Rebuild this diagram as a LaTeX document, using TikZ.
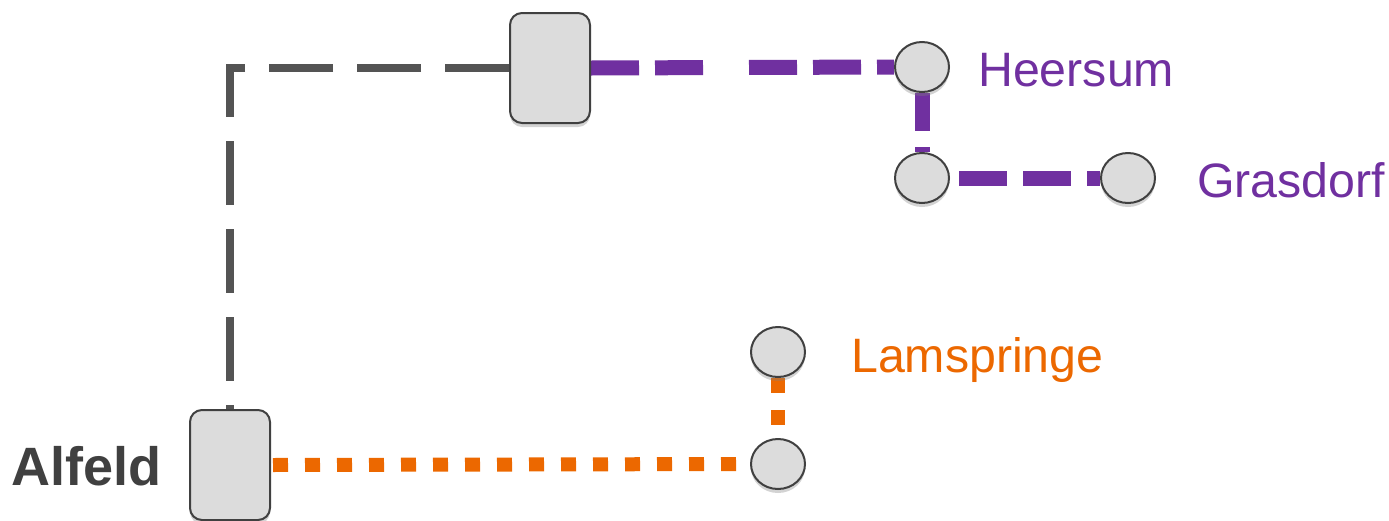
\documentclass[tikz,border=0pt]{standalone}
\usepackage{fontspec}
\setmainfont{Liberation Sans}
\usepackage{tikz}
\usetikzlibrary{positioning}
\usetikzlibrary{shadows,arrows,shapes.geometric,backgrounds}

\definecolor{linegray}{RGB}{84,84,84}
\definecolor{nodegray}{RGB}{220,220,220}
\definecolor{rimgray}{RGB}{64,64,64}
\definecolor{routepurple}{RGB}{112,48,160}
\definecolor{routeorange}{RGB}{236,104,0}

\begin{document}
\begin{tikzpicture}[x=1pt, y=-1pt,
    townbox/.style={draw=rimgray, line width=2pt, fill=nodegray, rounded corners=12pt,
      minimum width=80pt, minimum height=110pt, inner sep=0pt,
      drop shadow={shadow xshift=0pt, shadow yshift=-4pt, opacity=0.35}},
    stop/.style={ellipse, draw=rimgray, line width=2pt, fill=nodegray,
      minimum width=54pt, minimum height=50pt, inner sep=0pt,
      drop shadow={shadow xshift=0pt, shadow yshift=-4pt, opacity=0.35}},
    label/.style={anchor=base west, inner sep=0pt, font=\fontsize{48.3}{50}\selectfont}]
      \useasboundingbox (0,0) rectangle (1389,520);
      % towns and stops
      \node[townbox] (hub) at (550,68) {};
      \node[townbox] (alfeld) at (230,465) {};
      \node[stop] (heersum) at (922,67) {};
      \node[stop] (grasA) at (922,178) {};
      \node[stop] (grasB) at (1128,178) {};
      \node[stop] (lamA) at (778,352) {};
      \node[stop] (lamB) at (778,464) {};
      % names
      \node[label, text=routepurple] (heersumtxt) at (978,86) {Heersum};
      \node[label, text=routepurple] (grastxt) at (1197,197) {Grasdorf};
      \node[label, text=routeorange] (lamtxt) at (851,372) {Lamspringe};
      \node[label, text=rimgray, font=\fontsize{54}{56}\selectfont\bfseries] (alfeldtxt) at (11,485) {Alfeld};
      % routes
      \begin{pgfonlayer}{background}
      \draw[linegray, line width=7.5pt, dash pattern=on 64pt off 24pt] (hub.west) -| (alfeld.north);
      \draw[routepurple, line width=15pt,
        dash pattern=on 48pt off 16pt on 48pt off 46pt on 48pt off 16pt on 48pt off 16pt on 48pt off 16pt] (hub.east) -- (heersum.west);
      \draw[routepurple, line width=15pt, dash pattern=on 48pt off 16pt, dash phase=10pt] (heersum.south) -- (grasA.north);
      \draw[routepurple, line width=15pt, dash pattern=on 48pt off 16pt, dash phase=55pt] (grasA.east) -- (grasB.west);
      \draw[routeorange, line width=14pt, dash pattern=on 15pt off 17pt, dash phase=30pt] (alfeld.east) -- (lamB.west);
      \draw[routeorange, line width=14pt, dash pattern=on 15pt off 17pt] (lamA.south) -- (lamB.north);
      \end{pgfonlayer}
\end{tikzpicture}
\end{document}
